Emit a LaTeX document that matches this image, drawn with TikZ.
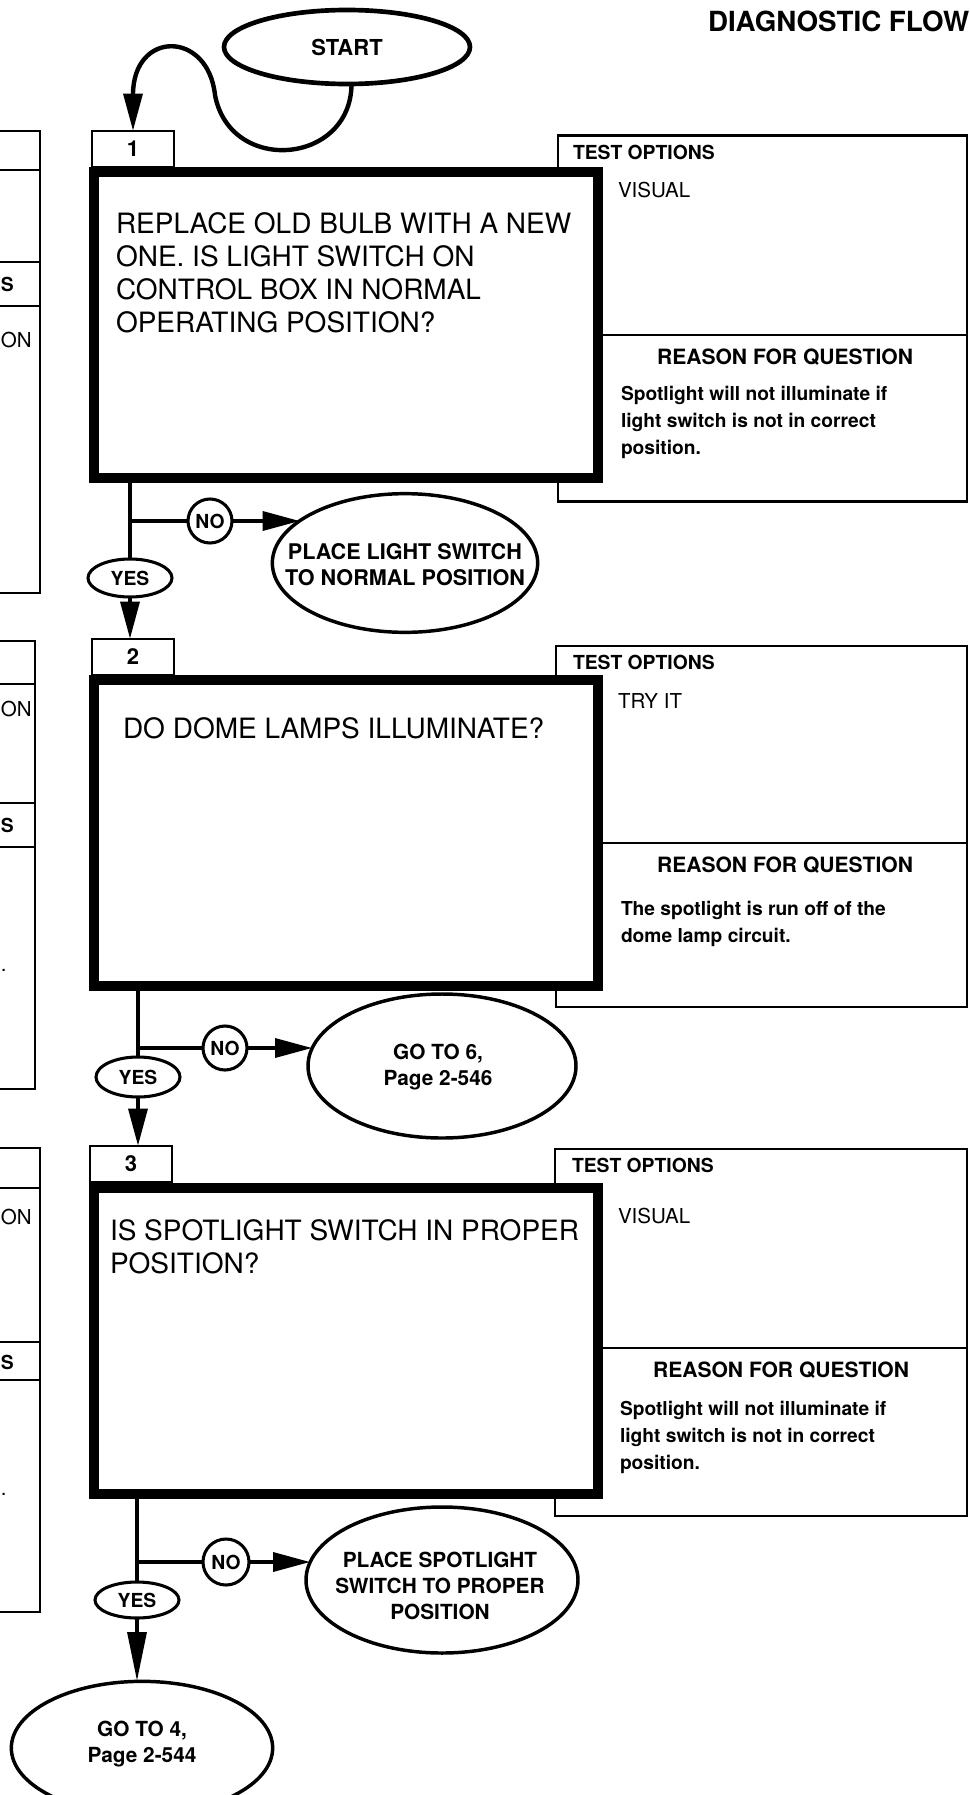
\documentclass[tikz,border=0pt]{standalone}
\usepackage{fontspec}
\setmainfont{TeX Gyre Heros}
\usetikzlibrary{arrows.meta,shapes.geometric}
\newcommand\myfq{\fontsize{21}{24.75}\selectfont}
\newcommand\myfh{\bfseries\fontsize{14.5}{18}\selectfont}
\newcommand\myfr{\bfseries\fontsize{15.8}{19}\selectfont}
\newcommand\myfv{\fontsize{15.4}{18}\selectfont}
\newcommand\myfb{\bfseries\fontsize{14.4}{20.25}\selectfont}
\newcommand\myfe{\bfseries\fontsize{15.6}{19.5}\selectfont}
\newcommand\myfw{\bfseries\fontsize{16.2}{19.5}\selectfont}
\newcommand\myfy{\bfseries\fontsize{14.5}{17}\selectfont}
\newcommand\myft{\bfseries\fontsize{20.8}{24}\selectfont}
\newcommand\myfs{\bfseries\fontsize{16.5}{20}\selectfont}
\newcommand\myfn{\bfseries\fontsize{16.5}{19}\selectfont}
\begin{document}
\begin{tikzpicture}[x=0.75pt,y=-0.75pt,
  every node/.style={inner sep=0pt,outer sep=0pt},
  lbox/.style={draw,line width=1.9pt},
  tbox/.style={draw,line width=2.2pt,fill=white,anchor=north west},
  tabbox/.style={draw,line width=1.9pt,fill=white,minimum width=61.5pt,minimum height=27pt,font=\myfn},
  mbox/.style={draw,line width=7.5pt,fill=white,anchor=north west,minimum width=378pt,minimum height=229.5pt},
  qtext/.style={anchor=north west,align=left,font=\myfq},
  hdr/.style={anchor=west,font=\myfh},
  opt/.style={anchor=west,font=\myfv},
  rsn/.style={font=\myfr},
  bodytxt/.style={anchor=north west,align=left,font=\myfb},
  divider/.style={line width=2.2pt},
  conn/.style={line width=3.3pt},
  arr/.style={line width=3.3pt,-{Triangle[length=28pt,width=14pt]}},
  arrlong/.style={line width=3.3pt,-{Triangle[length=37pt,width=14pt]}},
  yesn/.style={ellipse,draw,line width=2.3pt,fill=white,font=\myfy,minimum width=63pt,minimum height=28.5pt},
  non/.style={circle,draw,line width=2.3pt,fill=white,font=\myfy,minimum size=33pt},
  endn/.style={ellipse,draw,line width=2.6pt,fill=white},
  endt/.style={align=center,font=\myfe}
]
\useasboundingbox (0,0) rectangle (970,1795);
\clip (0,0) rectangle (970,1795);
\fill[white] (0,0) rectangle (970,1795);

% title and start
\node[anchor=west,font=\myft] (title) at (708,21) {DIAGNOSTIC FLOW};
\node[ellipse,draw,line width=3.5pt,fill=white,minimum width=184.5pt,minimum height=55.5pt,font=\myfs] (start) at (347,47) {START};

% ---------- section 1 ----------
\draw[lbox] (-20,131) rectangle (40,593);
\draw[lbox] (-20,170) -- (40,170) (-20,262) -- (40,262) (-20,306) -- (40,306);
\node[anchor=west,font=\myfh] (ls1) at (1,284) {S};
\node[opt] (lo1) at (1,340) {ON};
\node[tbox,minimum width=306.75pt,minimum height=274.5pt] (tb1) at (558,135.5) {};
\coordinate (dv1) at (0,335);
\node[tabbox] (tab1) at (133,149) {1};
\node[mbox] (mb1) at (94,172) {};
\draw[divider] (mb1.east |- dv1) -- (tb1.east |- dv1);
\node[qtext] (q1) at (116,213) {REPLACE OLD BULB WITH A NEW\\ONE. IS LIGHT SWITCH ON\\CONTROL BOX IN NORMAL\\OPERATING POSITION?};
\node[hdr] (h1) at (573,152) {TEST OPTIONS};
\node[opt] (o1) at (618,190) {VISUAL};
\node[rsn] (r1) at (785,357) {REASON FOR QUESTION};
\node[bodytxt] (bt1) at (621,386) {Spotlight will not illuminate if\\light switch is not in correct\\position.};
\node[yesn] (yes1) at (130,578) {YES};
\node[non] (no1) at (210,521) {NO};
\node[endn,minimum width=199pt,minimum height=104pt] (pl1) at (405,563) {};
\node[endt,font=\myfw] (pl1t) at (405,565) {PLACE LIGHT SWITCH\\TO NORMAL POSITION};

% ---------- section 2 ----------
\draw[lbox] (-20,641) rectangle (35,1089);
\draw[lbox] (-20,684) -- (35,684) (-20,803) -- (35,803) (-20,847) -- (35,847);
\node[opt] (lo2) at (1,709) {ON};
\node[anchor=west,font=\myfh] (ls2) at (1,825) {S};
\node[anchor=base west,font=\myfv] (lp2) at (1,971) {.};
\node[tbox,minimum width=308.25pt,minimum height=270.75pt] (tb2) at (556,646) {};
\coordinate (dv2) at (0,843);
\node[tabbox] (tab2) at (133,657) {2};
\node[mbox] (mb2) at (94,680) {};
\draw[divider] (mb2.east |- dv2) -- (tb2.east |- dv2);
\node[qtext] (q2) at (123,718) {DO DOME LAMPS ILLUMINATE?};
\node[hdr] (h2) at (573,662) {TEST OPTIONS};
\node[opt] (o2) at (618,701) {TRY IT};
\node[rsn] (r2) at (785,865) {REASON FOR QUESTION};
\node[bodytxt] (bt2) at (621,901) {The spotlight is run off of the\\dome lamp circuit.};
\node[yesn,minimum height=30pt] (yes2) at (138,1077) {YES};
\node[non] (no2) at (225,1048) {NO};
\node[endn,minimum width=201pt,minimum height=108pt] (go6) at (442,1066) {};
\node[endt] (go6t) at (438,1067) {GO TO 6,\\Page 2-546};

% ---------- section 3 ----------
\draw[lbox] (-20,1148) rectangle (40,1612);
\draw[lbox] (-20,1188) -- (40,1188) (-20,1342) -- (40,1342) (-20,1380) -- (40,1380);
\node[opt] (lo3) at (1,1217) {ON};
\node[anchor=west,font=\myfh] (ls3) at (1,1362) {S};
\node[anchor=base west,font=\myfv] (lp3) at (1,1495) {.};
\node[tbox,minimum width=309pt,minimum height=275.25pt] (tb3) at (555,1149) {};
\coordinate (dv3) at (0,1348);
\node[tabbox] (tab3) at (131,1164) {3};
\node[mbox] (mb3) at (94,1188) {};
\draw[divider] (mb3.east |- dv3) -- (tb3.east |- dv3);
\node[qtext] (q3) at (110,1220) {IS SPOTLIGHT SWITCH IN PROPER\\POSITION?};
\node[hdr] (h3) at (572,1165) {TEST OPTIONS};
\node[opt] (o3) at (618,1216) {VISUAL};
\node[rsn] (r3) at (781,1370) {REASON FOR QUESTION};
\node[bodytxt] (bt3) at (620,1401) {Spotlight will not illuminate if\\light switch is not in correct\\position.};
\node[yesn,minimum height=27pt] (yes3) at (137,1600) {YES};
\node[non,minimum size=34.5pt] (no3) at (226,1562) {NO};
\node[endn,minimum width=204pt,minimum height=109.5pt] (pl3) at (442,1580) {};
\node[endt] (pl3t) at (440,1586) {PLACE SPOTLIGHT\\SWITCH TO PROPER\\POSITION};
\node[endn,minimum width=196pt,minimum height=100pt] (go4) at (142,1748) {};
\node[endt] (go4t) at (142,1744) {GO TO 4,\\Page 2-544};

% ---------- connectors ----------
\draw[arr] (start.-83) .. controls (351,165) and (230,175) .. (215,95)
           .. controls (208,30) and (133,30) .. (tab1.north);

\draw[conn] (yes1 |- mb1.south) -- (yes1.north);
\draw[conn] (yes1 |- no1) -- (no1.west);
\draw[arr] (no1.east) -- (no1 -| pl1.158);
\draw[arr] (yes1.south) -- (yes1.south |- tab2.north);

\draw[conn] (yes2 |- mb2.south) -- (yes2.north);
\draw[conn] (yes2 |- no2) -- (no2.west);
\draw[arr] (no2.east) -- (no2 -| go6.172);
\draw[arr] (yes2.south) -- (yes2.south |- tab3.north);

\draw[conn] (yes3 |- mb3.south) -- (yes3.north);
\draw[conn] (yes3 |- no3) -- (no3.west);
\draw[arr] (no3.east) -- (no3 -| pl3.172);
\draw[arrlong] (yes3.south) -- (yes3.south |- go4.north);
\end{tikzpicture}
\end{document}
